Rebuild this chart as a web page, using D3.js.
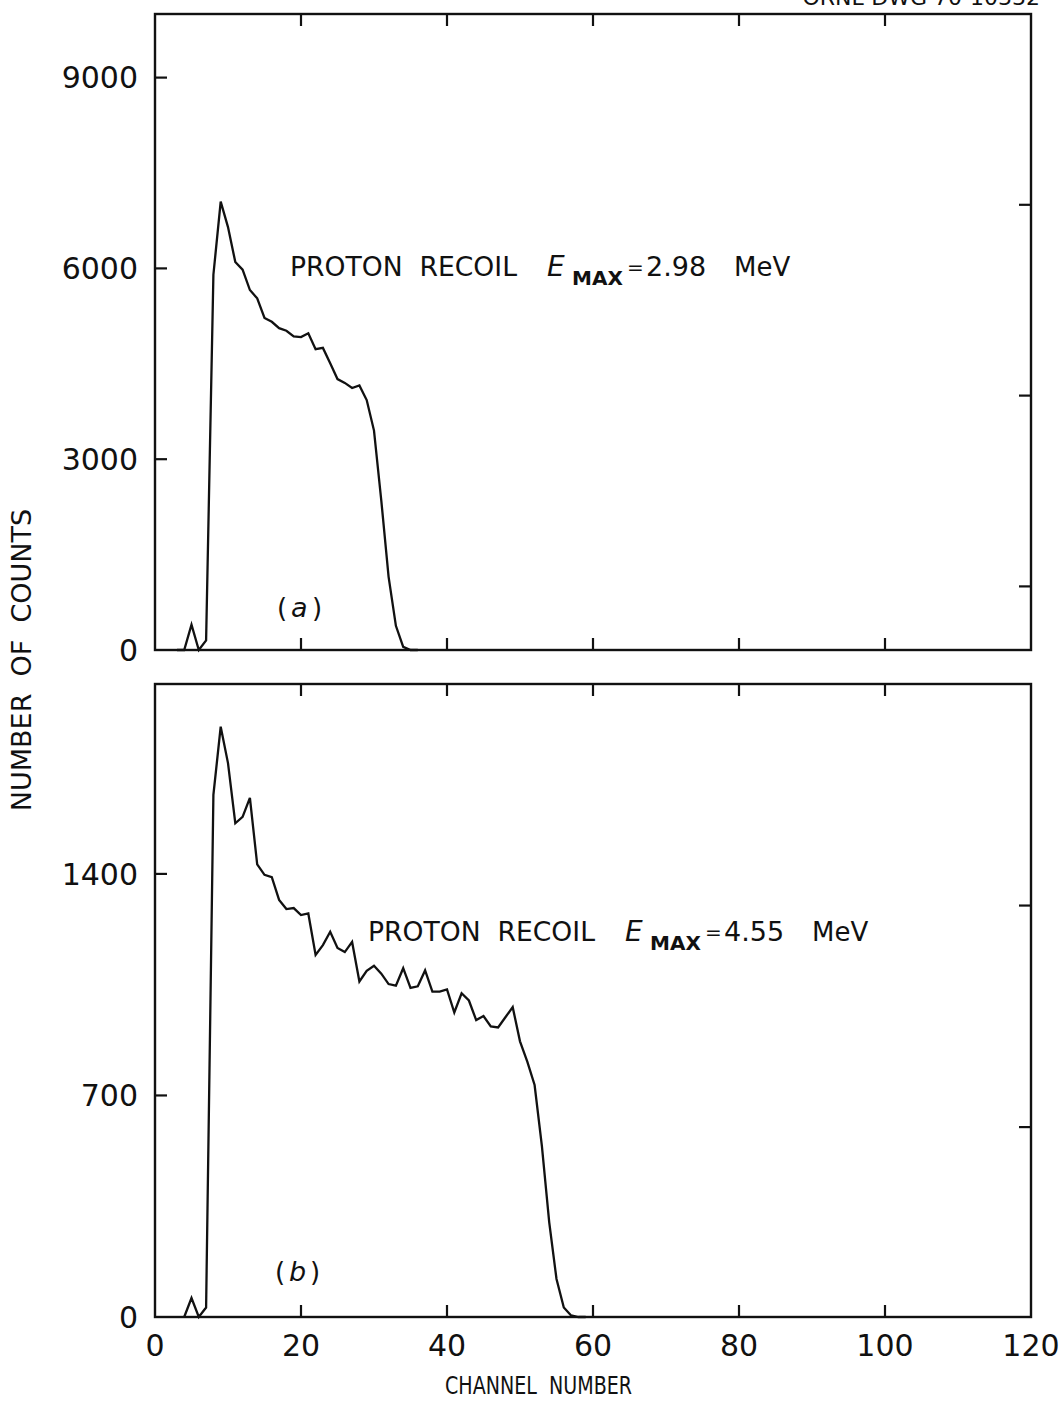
<!DOCTYPE html>
<html>
<head>
<meta charset="utf-8">
<script src="https://cdn.jsdelivr.net/npm/d3@7"></script>
<style>
  html, body { margin: 0; padding: 0; background: #fff; }
  svg { display: block; }
  text { font-family: "DejaVu Sans", "Liberation Sans", sans-serif; fill: #111; white-space: pre; }
</style>
</head>
<body>
<svg id="chart" width="1059" height="1401"></svg>
<script>
// ---------- data ----------
const channelsA = [3,4,5,6,7,8,9,10,11,12,13,14,15,16,17,18,19,20,21,22,23,24,25,26,27,28,29,30,31,32,33,34,35,36];
const countsA   = [0,0,400,0,150,5900,7050,6650,6100,5980,5660,5530,5220,5160,5060,5020,4930,4920,4980,4730,4750,4510,4260,4200,4120,4160,3930,3450,2350,1150,380,50,0,0];

const channelsB = [4,5,6,7,8,9,10,11,12,13,14,15,16,17,18,19,20,21,22,23,24,25,26,27,28,29,30,31,32,33,34,35,36,37,38,39,40,41,42,43,44,45,46,47,48,49,50,51,52,53,54,55,56,57,58,59];
const countsB   = [0,60,0,30,1650,1865,1750,1560,1580,1640,1430,1397,1390,1318,1289,1292,1270,1275,1144,1175,1217,1166,1153,1185,1060,1094,1110,1085,1052,1047,1102,1040,1045,1095,1028,1028,1035,962,1023,1000,938,951,918,915,947,979,871,807,733,540,300,120,30,5,0,0];

const xDomain = [0, 120];
const xTicks = [0, 20, 40, 60, 80, 100, 120];
const xInnerTicks = [20, 40, 60, 80, 100];

const yDomainA = [0, 10000];
const yLabelTicksA = [0, 3000, 6000, 9000];
const yRightTicksA = [1000, 4000, 7000];

const yDomainB = [0, 2000];
const yLabelTicksB = [0, 700, 1400];
const yRightTicksB = [600, 1300];

const panelTexts = [
  { label: "a", energy: "2.98" },
  { label: "b", energy: "4.55" }
];

// ---------- layout ----------
const svg = d3.select("#chart");
const left = 155, right = 1031;
const x = d3.scaleLinear().domain(xDomain).range([left, right]);
const tickLen = 12;
const ink = "#111";

function drawPanel(top, bottom, yDomain, labelTicks, rightTicks, channels, counts, t, pos) {
  const y = d3.scaleLinear().domain(yDomain).range([bottom, top]);
  const g = svg.append("g");

  // frame
  g.append("rect").attr("x", left).attr("y", top)
    .attr("width", right - left).attr("height", bottom - top)
    .attr("fill", "none").attr("stroke", ink).attr("stroke-width", 2.4);

  // bottom/top inner ticks
  xInnerTicks.forEach(v => {
    g.append("line").attr("x1", x(v)).attr("x2", x(v)).attr("y1", bottom).attr("y2", bottom - tickLen)
      .attr("stroke", ink).attr("stroke-width", 2.2);
    g.append("line").attr("x1", x(v)).attr("x2", x(v)).attr("y1", top).attr("y2", top + tickLen)
      .attr("stroke", ink).attr("stroke-width", 2.2);
  });

  // left ticks + labels
  labelTicks.forEach(v => {
    if (v !== 0) {
      g.append("line").attr("x1", left).attr("x2", left + tickLen).attr("y1", y(v)).attr("y2", y(v))
        .attr("stroke", ink).attr("stroke-width", 2.2);
    }
    g.append("text").attr("x", 138).attr("y", y(v)).attr("dy", "0.36em")
      .attr("text-anchor", "end").attr("font-size", 30).text(v);
  });

  // right ticks
  rightTicks.forEach(v => {
    g.append("line").attr("x1", right).attr("x2", right - tickLen).attr("y1", y(v)).attr("y2", y(v))
      .attr("stroke", ink).attr("stroke-width", 2.2);
  });

  // curve
  const pts = channels.map((c, i) => [c, counts[i]]);
  g.append("path").datum(pts)
    .attr("fill", "none").attr("stroke", ink).attr("stroke-width", 2.3)
    .attr("stroke-linejoin", "miter")
    .attr("d", d3.line().x(d => x(d[0])).y(d => y(d[1])));

  // annotation
  const ex = pos.x + 257;
  g.append("text").attr("x", pos.x).attr("y", pos.y).attr("font-size", 26.5)
    .attr("textLength", 227).attr("lengthAdjust", "spacingAndGlyphs")
    .text("PROTON\u00a0\u00a0RECOIL");
  g.append("text").attr("x", ex).attr("y", pos.y).attr("font-size", 28)
    .attr("font-style", "italic").text("E");
  g.append("text").attr("x", ex + 25).attr("y", pos.y + 9).attr("font-size", 20)
    .attr("font-weight", "bold").text("MAX");
  g.append("text").attr("x", ex + 80).attr("y", pos.y - 2).attr("font-size", 20).text("=");
  g.append("text").attr("x", ex + 99).attr("y", pos.y).attr("font-size", 27).text(t.energy);
  g.append("text").attr("x", ex + 187).attr("y", pos.y).attr("font-size", 26).text("MeV");

  // panel label
  g.append("text").attr("x", pos.lx).attr("y", pos.ly).attr("font-size", 26).text("(");
  g.append("text").attr("x", pos.lx + 14).attr("y", pos.ly).attr("font-size", 27)
    .attr("font-style", "italic").text(t.label);
  g.append("text").attr("x", pos.lx + 35).attr("y", pos.ly).attr("font-size", 26).text(")");
}

drawPanel(14, 650, yDomainA, yLabelTicksA, yRightTicksA, channelsA, countsA, panelTexts[0],
  { x: 290, y: 276, lx: 277, ly: 617 });
drawPanel(684, 1317, yDomainB, yLabelTicksB, yRightTicksB, channelsB, countsB, panelTexts[1],
  { x: 368, y: 941, lx: 275, ly: 1281 });

// x tick labels
xTicks.forEach(v => {
  svg.append("text").attr("x", x(v)).attr("y", 1356).attr("text-anchor", "middle")
    .attr("font-size", 30).text(v);
});

// axis titles
svg.append("text").attr("x", 445).attr("y", 1394)
  .attr("font-size", 24).attr("textLength", 187).attr("lengthAdjust", "spacingAndGlyphs")
  .text("CHANNEL\u00a0\u00a0NUMBER");
svg.append("text").attr("transform", "translate(31,660) rotate(-90)")
  .attr("text-anchor", "middle").attr("font-size", 27)
  .text("NUMBER\u00a0\u00a0OF\u00a0\u00a0COUNTS");

// cut-off drawing number at top edge
svg.append("text").attr("x", 1040).attr("y", 5).attr("text-anchor", "end")
  .attr("font-size", 22).text("ORNL-DWG 70-10332");
</script>
</body>
</html>
